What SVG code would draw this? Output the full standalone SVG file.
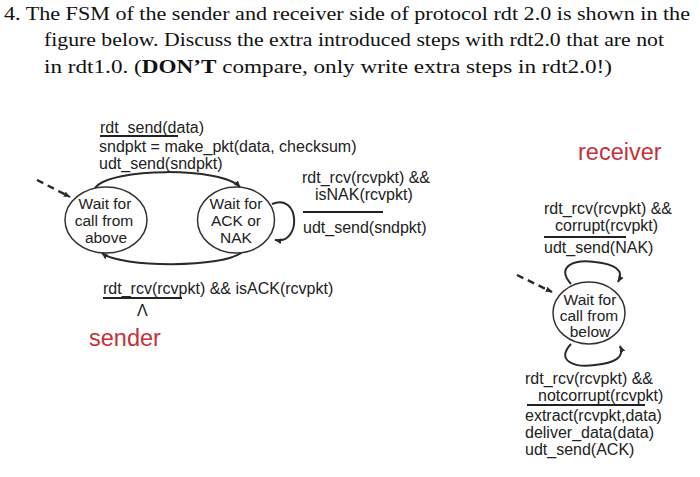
<svg xmlns="http://www.w3.org/2000/svg" width="700" height="477" viewBox="0 0 700 477">
<defs>
<marker id="ah" viewBox="0 0 10 10" refX="9" refY="5" markerWidth="7" markerHeight="7" orient="auto" markerUnits="userSpaceOnUse">
<path d="M0,1 L10,5 L0,9 z" fill="#2a2a2a"/>
</marker>
</defs>
<style>
.q{font-family:"Liberation Serif","Times New Roman",serif;font-size:19.5px;fill:#111}
.t{font-family:"Liberation Sans",Arial,sans-serif;font-size:16px;fill:#222}
.n{font-family:"Liberation Sans",Arial,sans-serif;font-size:15.5px;fill:#222;text-anchor:middle}
.r{font-family:"Liberation Sans",Arial,sans-serif;font-size:23.5px;fill:#c4313a}
.st{fill:#fff;stroke:#333;stroke-width:1.5}
.e{fill:none;stroke:#2a2a2a;stroke-width:2;marker-end:url(#ah)}
.d{fill:none;stroke:#2a2a2a;stroke-width:2.5;stroke-dasharray:7,5;marker-end:url(#ah)}
.sep{stroke:#222;stroke-width:1.8}
</style>
<rect width="700" height="477" fill="#fff"/>
<g id="question">
<text class="q" x="4" y="20" textLength="686" lengthAdjust="spacingAndGlyphs">4. The FSM of the sender and receiver side of protocol rdt 2.0 is shown in the</text>
<text class="q" x="44" y="46" textLength="620" lengthAdjust="spacingAndGlyphs">figure below. Discuss the extra introduced steps with rdt2.0 that are not</text>
<text class="q" x="44" y="73" textLength="568" lengthAdjust="spacingAndGlyphs">in rdt1.0. (<tspan font-weight="bold">DON’T</tspan> compare, only write extra steps in rdt2.0!)</text>
</g>
<g id="connectors">
<path class="d" d="M37,180 L70,197"/>
<path class="e" d="M95,188 C110,167 222,167 240,187"/>
<path class="e" d="M242,252 C225,268 120,268 102,253"/>
<path class="e" d="M272,204 C300,192 302,245 275,240"/>
<path class="d" d="M517,275 L552,292"/>
<path class="e" d="M571,284 C555,266 575,259 595,262 C614,264 625,270 618,282"/>
<path class="e" d="M571,344 C555,361 575,368 595,365 C615,363 625,357 620,346"/>
</g>
<g id="sender-wait-above">
<ellipse class="st" cx="106" cy="220" rx="41" ry="33"/>
<text class="n" x="105" y="209">Wait for</text>
<text class="n" x="104" y="226">call from</text>
<text class="n" x="106" y="243">above</text>
</g>
<g id="sender-wait-ack">
<ellipse class="st" cx="236" cy="220" rx="38.5" ry="33"/>
<text class="n" x="236" y="209">Wait for</text>
<text class="n" x="236" y="226">ACK or</text>
<text class="n" x="236" y="243">NAK</text>
</g>
<g id="receiver-wait-below">
<ellipse class="st" cx="589" cy="313" rx="36" ry="31"/>
<text class="n" x="590" y="305" font-size="14.5">Wait for</text>
<text class="n" x="589" y="321" font-size="14.5">call from</text>
<text class="n" x="590" y="337" font-size="14.5">below</text>
</g>
<g id="labels">
<text class="t" x="100" y="133">rdt_send(data)</text>
<line class="sep" x1="100" y1="136" x2="178" y2="136"/>
<text class="t" x="99" y="152">sndpkt = make_pkt(data, checksum)</text>
<text class="t" x="99" y="169">udt_send(sndpkt)</text>
<text class="t" x="302" y="183">rdt_rcv(rcvpkt) &amp;&amp;</text>
<text class="t" x="315" y="200">isNAK(rcvpkt)</text>
<line class="sep" x1="303" y1="212" x2="383" y2="212"/>
<text class="t" x="303" y="233">udt_send(sndpkt)</text>
<text class="t" x="103" y="294">rdt_rcv(rcvpkt) &amp;&amp; isACK(rcvpkt)</text>
<line class="sep" x1="103" y1="298" x2="182" y2="298"/>
<text class="t" x="137" y="316" font-size="13">Λ</text>
<text class="r" x="89" y="346">sender</text>
<text class="r" x="578" y="160">receiver</text>
<text class="t" x="544" y="214">rdt_rcv(rcvpkt) &amp;&amp;</text>
<text class="t" x="555" y="231">corrupt(rcvpkt)</text>
<line class="sep" x1="544" y1="237" x2="626" y2="237"/>
<text class="t" x="544" y="253">udt_send(NAK)</text>
<text class="t" x="525" y="384">rdt_rcv(rcvpkt) &amp;&amp;</text>
<text class="t" x="538" y="401">notcorrupt(rcvpkt)</text>
<line class="sep" x1="527" y1="405" x2="645" y2="405"/>
<text class="t" x="525" y="421">extract(rcvpkt,data)</text>
<text class="t" x="525" y="438">deliver_data(data)</text>
<text class="t" x="525" y="455">udt_send(ACK)</text>
</g>
</svg>
